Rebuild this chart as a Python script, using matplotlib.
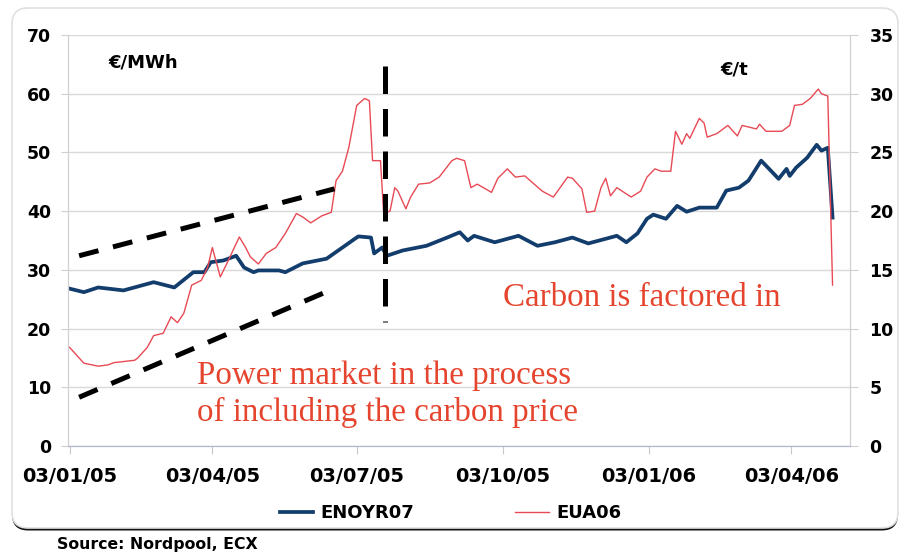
import matplotlib
matplotlib.use("Agg")
import matplotlib.pyplot as plt
import matplotlib.dates as mdates
from matplotlib.patches import FancyBboxPatch
from matplotlib.transforms import IdentityTransform
import numpy as np

# ---------------- data ----------------
eno_dates = ["2005-01-03", "2005-01-12", "2005-01-21", "2005-02-06", "2005-02-25", "2005-03-10",
             "2005-03-22", "2005-03-29", "2005-04-02", "2005-04-10", "2005-04-18", "2005-04-23",
             "2005-04-29", "2005-05-02", "2005-05-15", "2005-05-19", "2005-05-30", "2005-06-14",
             "2005-06-24", "2005-07-04", "2005-07-12", "2005-07-14", "2005-07-19", "2005-07-22",
             "2005-08-01", "2005-08-16", "2005-08-29", "2005-09-06", "2005-09-11", "2005-09-15",
             "2005-09-28", "2005-10-13", "2005-10-25", "2005-11-05", "2005-11-16", "2005-11-26",
             "2005-12-14", "2005-12-20", "2005-12-27", "2006-01-02", "2006-01-06", "2006-01-14",
             "2006-01-21", "2006-01-27", "2006-02-04", "2006-02-15", "2006-02-21", "2006-03-01",
             "2006-03-07", "2006-03-15", "2006-03-20", "2006-03-26", "2006-03-31", "2006-04-02",
             "2006-04-06", "2006-04-13", "2006-04-19", "2006-04-22", "2006-04-26", "2006-04-29"]
eno_values = [26.8, 26.2, 27.0, 26.5, 27.9, 27.0,
              29.6, 29.6, 31.3, 31.6, 32.4, 30.4,
              29.6, 29.9, 29.9, 29.6, 31.1, 31.9,
              33.8, 35.7, 35.5, 32.8, 33.8, 32.4,
              33.3, 34.1, 35.5, 36.4, 35.0, 35.8,
              34.7, 35.8, 34.1, 34.7, 35.5, 34.5,
              35.8, 34.7, 36.2, 38.7, 39.4, 38.7,
              40.9, 39.9, 40.6, 40.6, 43.5, 44.0,
              45.2, 48.6, 47.2, 45.5, 47.2, 46.0,
              47.4, 49.1, 51.3, 50.3, 50.8, 38.9]

eua_dates = ["2005-01-03", "2005-01-12", "2005-01-21", "2005-01-27", "2005-01-31", "2005-02-13",
             "2005-02-15", "2005-02-21", "2005-02-25", "2005-03-03", "2005-03-08", "2005-03-12",
             "2005-03-16", "2005-03-21", "2005-03-27", "2005-03-31", "2005-04-03", "2005-04-08",
             "2005-04-12", "2005-04-20", "2005-04-24", "2005-04-27", "2005-05-02", "2005-05-07",
             "2005-05-13", "2005-05-19", "2005-05-26", "2005-05-30", "2005-06-04", "2005-06-11",
             "2005-06-17", "2005-06-20", "2005-06-24", "2005-06-28", "2005-07-03", "2005-07-08",
             "2005-07-11", "2005-07-13", "2005-07-18", "2005-07-20", "2005-07-24", "2005-07-27",
             "2005-07-29", "2005-08-03", "2005-08-06", "2005-08-11", "2005-08-18", "2005-08-24",
             "2005-09-01", "2005-09-04", "2005-09-09", "2005-09-13", "2005-09-17", "2005-09-26",
             "2005-09-30", "2005-10-06", "2005-10-11", "2005-10-17", "2005-10-28", "2005-11-04",
             "2005-11-13", "2005-11-16", "2005-11-22", "2005-11-25", "2005-11-30", "2005-12-04",
             "2005-12-07", "2005-12-10", "2005-12-14", "2005-12-23", "2005-12-29", "2006-01-02",
             "2006-01-07", "2006-01-11", "2006-01-17", "2006-01-20", "2006-01-24", "2006-01-27",
             "2006-01-29", "2006-02-04", "2006-02-07", "2006-02-09", "2006-02-15", "2006-02-22",
             "2006-02-28", "2006-03-03", "2006-03-12", "2006-03-14", "2006-03-18", "2006-03-28",
             "2006-04-02", "2006-04-05", "2006-04-10", "2006-04-15", "2006-04-20", "2006-04-22",
             "2006-04-26", "2006-04-29"]
eua_values = [8.4, 7.05, 6.8, 6.9, 7.1, 7.3,
              7.5, 8.4, 9.4, 9.6, 11.0, 10.5,
              11.3, 13.7, 14.1, 15.2, 16.9, 14.4,
              15.5, 17.8, 16.9, 16.1, 15.5, 16.4,
              16.9, 18.1, 19.8, 19.5, 19.0, 19.6,
              19.9, 22.6, 23.4, 25.4, 29.0, 29.6,
              29.4, 24.3, 24.3, 19.8, 20.0, 22.0,
              21.7, 20.2, 21.2, 22.3, 22.4, 22.9,
              24.3, 24.5, 24.3, 22.0, 22.3, 21.6,
              22.8, 23.6, 22.9, 23.0, 21.7, 21.2,
              22.9, 22.8, 21.9, 19.9, 20.0, 22.0,
              22.8, 21.3, 22.0, 21.2, 21.7, 22.9,
              23.6, 23.4, 23.4, 26.8, 25.7, 26.6,
              26.2, 27.9, 27.5, 26.3, 26.6, 27.3,
              26.4, 27.3, 27.0, 27.4, 26.8, 26.8,
              27.3, 29.0, 29.1, 29.6, 30.4, 30.0,
              29.8, 13.7]

series_names = ["ENOYR07", "EUA06"]
left_unit = "€/MWh"
right_unit = "€/t"
note_left = "Power market in the process\nof including the carbon price"
note_right = "Carbon is factored in"
source_text = "Source: Nordpool, ECX"

# annotation guide lines (date, left-axis value)
upper_guide = (["2005-01-09", "2005-06-19"], [32.4, 43.8])
lower_guide = (["2005-01-09", "2005-06-16"], [8.3, 26.5])
vertical_guide = (["2005-07-21", "2005-07-21"], [64.7, 21.1])

# ---------------- style ----------------
BLUE = "#133d6c"
RED = "#e84a55"
TEXT_RED = "#e5452f"
GRID = "#d9d9d9"

W, H = 901, 553
fig = plt.figure(figsize=(W / 100, H / 100), dpi=100)
fig.patch.set_facecolor("white")

# rounded frame with dark bottom shadow
shadow = FancyBboxPatch((12, 22.5), 886, 520, boxstyle="round,pad=0,rounding_size=16",
                        transform=IdentityTransform(), facecolor="#111111", edgecolor="none",
                        zorder=-3)
frame = FancyBboxPatch((12, 25), 886, 520, boxstyle="round,pad=0,rounding_size=16",
                       transform=IdentityTransform(), facecolor="white", edgecolor="#e0e0e0",
                       linewidth=1.2, zorder=-2)
fig.add_artist(shadow)
fig.add_artist(frame)

ax = fig.add_axes([68 / W, 1 - 446 / H, (850 - 68) / W, (446 - 35) / H])
ax.patch.set_alpha(0)
ax2 = ax.twinx()

to_dt = lambda lst: np.array(lst, dtype="datetime64[D]")

l1, = ax.plot(to_dt(eno_dates), eno_values, color=BLUE, lw=2.7, solid_joinstyle="round",
              label=series_names[0])
l2, = ax2.plot(to_dt(eua_dates), eua_values, color=RED, lw=1.0, label=series_names[1])

ax.set_ylim(0, 70)
ax2.set_ylim(0, 35)
ax.set_yticks(np.arange(0, 71, 10))
ax2.set_yticks(np.arange(0, 36, 5))
ax.set_xlim(np.datetime64("2005-01-02"), np.datetime64("2006-05-10"))

ax.xaxis.set_major_locator(mdates.MonthLocator(bymonth=[1, 4, 7, 10], bymonthday=3))
ax.xaxis.set_major_formatter(mdates.DateFormatter("%d/%m/%y"))

ax.grid(axis="y", color=GRID, lw=1.0)
ax.set_axisbelow(True)

for a in (ax, ax2):
    a.spines["top"].set_visible(False)
    a.spines["left"].set_color("#d0d0d0")
    a.spines["right"].set_color("#d0d0d0")
    a.spines["bottom"].set_color("#b4b8cc")
ax.tick_params(axis="y", length=5, color="#d0d0d0", pad=7, labelsize=12.5)
ax2.tick_params(axis="y", length=6, color="#d0d0d0", pad=8, labelsize=12.5)
ax.tick_params(axis="x", length=6, color="#c8c8c8", pad=9, labelsize=14)
for lab in ax.get_xticklabels() + ax.get_yticklabels() + ax2.get_yticklabels():
    lab.set_fontweight("bold")

# guide lines drawn in left-axis data units, placed on top
for (xs, ys), dash in ((upper_guide, [4.0, 3.0]), (lower_guide, [4.0, 3.0]),
                       (vertical_guide, [5.5, 3.0])):
    ln, = ax2.plot(to_dt(xs), ys, color="black", lw=3.6, transform=ax.transData,
                   solid_capstyle="butt", zorder=5)
    ln.set_dashes(dash)
    ln.set_dash_capstyle("butt")
ax2.set_ylim(0, 35)

ax.text(0.052, 0.932, left_unit, transform=ax.transAxes, fontsize=13, fontweight="bold",
        va="center", ha="left")
ax.text(0.834, 0.915, right_unit, transform=ax.transAxes, fontsize=13, fontweight="bold",
        va="center", ha="left")

ax2.text(0.165, 0.125, note_left, transform=ax.transAxes, fontsize=23.8,
         family="Liberation Serif", color=TEXT_RED, va="center", ha="left", linespacing=1.25,
         zorder=6)
ax2.text(0.556, 0.36, note_right, transform=ax.transAxes, fontsize=23.8,
         family="Liberation Serif", color=TEXT_RED, va="center", ha="left", zorder=6)

fig.legend(handles=[l1, l2], loc="center", bbox_to_anchor=(0.5, 1 - 513 / H), ncol=2,
           frameon=False, handlelength=1.85, columnspacing=5.6, handletextpad=0.4,
           prop={"weight": "bold", "size": 13})

fig.text(57 / W, 1 - 545 / H, source_text, fontsize=11.3, fontweight="bold", va="center",
         ha="left")

fig.savefig("out.png", dpi=100, facecolor="white")
